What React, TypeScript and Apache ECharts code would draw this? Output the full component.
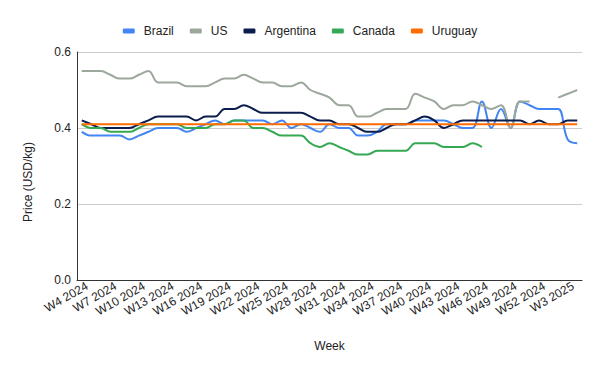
import React, { useEffect, useRef } from "react";
import * as echarts from "echarts";

const weeks: string[] = [
  "W4 2024", "W5 2024", "W6 2024", "W7 2024", "W8 2024", "W9 2024", "W10 2024", "W11 2024",
  "W12 2024", "W13 2024", "W14 2024", "W15 2024", "W16 2024", "W17 2024", "W18 2024", "W19 2024",
  "W20 2024", "W21 2024", "W22 2024", "W23 2024", "W24 2024", "W25 2024", "W26 2024", "W27 2024",
  "W28 2024", "W29 2024", "W30 2024", "W31 2024", "W32 2024", "W33 2024", "W34 2024", "W35 2024",
  "W36 2024", "W37 2024", "W38 2024", "W39 2024", "W40 2024", "W41 2024", "W42 2024", "W43 2024",
  "W44 2024", "W45 2024", "W46 2024", "W47 2024", "W48 2024", "W49 2024", "W50 2024", "W51 2024",
  "W52 2024", "W1 2025", "W2 2025", "W3 2025", "W4 2025",
];

const brazil: (number | null)[] = [
  0.39, 0.38, 0.38, 0.38, 0.38, 0.37, 0.38, 0.39, 0.40, 0.40, 0.40, 0.39, 0.40, 0.41, 0.42, 0.41,
  0.42, 0.42, 0.42, 0.42, 0.41, 0.42, 0.40, 0.41, 0.40, 0.39, 0.41, 0.40, 0.40, 0.38, 0.38, 0.39,
  0.41, 0.41, 0.41, 0.42, 0.42, 0.42, 0.42, 0.41, 0.40, 0.40, 0.47, 0.40, 0.45, 0.40, 0.47, 0.46,
  0.45, 0.45, 0.45, 0.37, 0.36,
];

const us: (number | null)[] = [
  0.55, 0.55, 0.55, 0.54, 0.53, 0.53, 0.54, 0.55, 0.52, 0.52, 0.52, 0.51, 0.51, 0.51, 0.52, 0.53,
  0.53, 0.54, 0.53, 0.52, 0.52, 0.51, 0.51, 0.52, 0.50, 0.49, 0.48, 0.46, 0.46, 0.43, 0.43, 0.44,
  0.45, 0.45, 0.45, 0.49, 0.48, 0.47, 0.45, 0.46, 0.46, 0.47, 0.46, 0.45, 0.46, 0.40, 0.47, 0.47,
  null, null, 0.48, 0.49, 0.50,
];

const argentina: (number | null)[] = [
  0.42, 0.41, 0.40, 0.40, 0.40, 0.40, 0.41, 0.42, 0.43, 0.43, 0.43, 0.43, 0.42, 0.43, 0.43, 0.45,
  0.45, 0.46, 0.45, 0.44, 0.44, 0.44, 0.44, 0.44, 0.43, 0.42, 0.42, 0.41, 0.41, 0.40, 0.39, 0.39,
  0.40, 0.41, 0.41, 0.42, 0.43, 0.42, 0.40, 0.41, 0.42, 0.42, 0.42, 0.42, 0.42, 0.42, 0.42, 0.41,
  0.42, 0.41, 0.41, 0.42, 0.42,
];

const canada: (number | null)[] = [
  0.41, 0.40, 0.40, 0.39, 0.39, 0.39, 0.40, 0.41, 0.41, 0.41, 0.41, 0.40, 0.40, 0.40, 0.41, 0.41,
  0.42, 0.42, 0.40, 0.40, 0.39, 0.38, 0.38, 0.38, 0.36, 0.35, 0.36, 0.35, 0.34, 0.33, 0.33, 0.34,
  0.34, 0.34, 0.34, 0.36, 0.36, 0.36, 0.35, 0.35, 0.35, 0.36, 0.35, null, null, null, null, null,
  null, null, null, null, null,
];

const uruguay: (number | null)[] = [
  0.41, 0.41, 0.41, 0.41, 0.41, 0.41, 0.41, 0.41, 0.41, 0.41, 0.41, 0.41, 0.41, 0.41, 0.41, 0.41,
  0.41, 0.41, 0.41, 0.41, 0.41, 0.41, 0.41, 0.41, 0.41, 0.41, 0.41, 0.41, 0.41, 0.41, 0.41, 0.41,
  0.41, 0.41, 0.41, 0.41, 0.41, 0.41, 0.41, 0.41, 0.41, 0.41, 0.41, 0.41, 0.41, 0.41, 0.41, 0.41,
  0.41, 0.41, 0.41, 0.41, 0.41,
];

const seriesNames = ["Brazil", "US", "Argentina", "Canada", "Uruguay"];
const seriesColors = ["#4285F4", "#9BA89B", "#0B1D4D", "#34A853", "#FF6D01"];
const seriesData = [brazil, us, argentina, canada, uruguay];

const FONT = "'Liberation Sans', Arial, sans-serif";

export default function App() {
  const ref = useRef<HTMLDivElement>(null);
  useEffect(() => {
    document.body.style.margin = "0";
    if (!ref.current) return;
    const chart = echarts.init(ref.current, undefined, { renderer: "svg" });
    chart.setOption({
      animation: false,
      textStyle: { fontFamily: FONT },
      legend: {
        top: 20,
        left: "center",
        itemWidth: 12,
        itemHeight: 5,
        itemGap: 16,
        icon: "roundRect",
        textStyle: { fontSize: 12, color: "#222", fontFamily: FONT, padding: [0, 0, 0, 4] },
        data: seriesNames,
      },
      grid: { left: 77, right: 18, top: 52, bottom: 91 },
      xAxis: {
        type: "category",
        data: weeks,
        boundaryGap: true,
        name: "Week",
        nameLocation: "middle",
        nameGap: 60,
        nameTextStyle: { fontSize: 12, color: "#222", fontFamily: FONT },
        axisLine: { lineStyle: { color: "#333", width: 1 } },
        axisTick: { show: false },
        axisLabel: {
          interval: 2,
          rotate: 30,
          fontSize: 12,
          color: "#222",
          fontFamily: FONT,
          margin: 8,
          padding: [0, -6, 0, 0],
        },
        splitLine: { show: false },
      },
      yAxis: {
        type: "value",
        min: 0,
        max: 0.6,
        interval: 0.2,
        name: "Price (USD/kg)",
        nameLocation: "middle",
        nameGap: 43,
        nameTextStyle: { fontSize: 12, color: "#222", fontFamily: FONT, padding: [0, 32, 0, 0] },
        axisLine: { show: true, lineStyle: { color: "#333", width: 1 } },
        axisTick: { show: false },
        axisLabel: {
          fontSize: 12,
          color: "#222",
          fontFamily: FONT,
          margin: 6,
          formatter: (v: number) => v.toFixed(1),
        },
        splitLine: { lineStyle: { color: "#ccc", width: 1 } },
      },
      series: seriesNames.map((name, i) => ({
        name,
        type: "line",
        data: seriesData[i],
        smooth: 0.4,
        showSymbol: false,
        symbol: "none",
        connectNulls: false,
        lineStyle: { width: 2, color: seriesColors[i] },
        itemStyle: { color: seriesColors[i] },
      })),
    });
    return () => chart.dispose();
  }, []);
  return <div ref={ref} style={{ width: 600, height: 371 }} />;
}
